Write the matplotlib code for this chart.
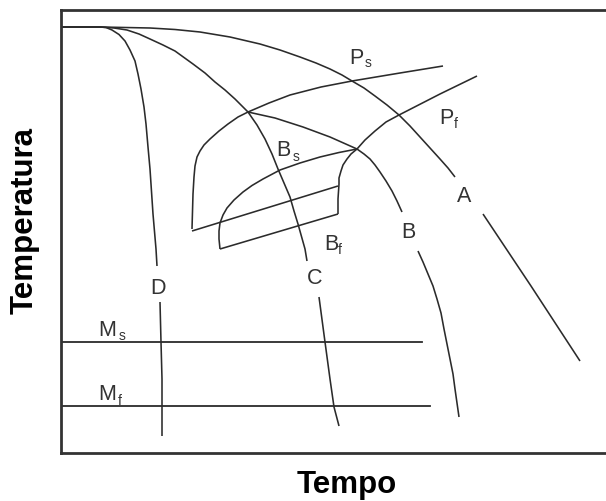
import matplotlib
matplotlib.use("Agg")
import matplotlib.pyplot as plt

# CCT diagram, schematic: time (arbitrary units) vs temperature (arbitrary units)
# cooling curves, upper part and lower part (gap where the letter sits)
D_upper = [(0, 426), (39, 426), (45, 425.5), (51, 423), (58, 418.5), (64, 412), (69, 403),
           (74, 392), (77, 379), (80, 364), (83, 346), (85, 329), (87, 306), (89, 284),
           (92, 239), (95, 204), (96, 187)]
D_lower = [(99, 151), (100, 111), (101, 74), (101, 47), (101, 17)]

C_upper = [(0, 426), (39, 426), (53, 425), (66, 423), (78, 419), (89, 414), (102, 408),
           (114, 402), (132, 389), (144, 380), (154, 371), (164, 363), (174, 354),
           (187, 341), (196, 328), (204, 314), (211, 299), (217, 284), (223, 270),
           (229, 256), (233, 242), (237, 229), (244, 204), (246, 192)]
C_lower = [(258, 156), (264, 111), (269, 74), (273, 46), (278, 27)]

B_upper = [(187, 341), (214, 335), (242, 326), (269, 316), (296, 304), (303, 299), (309, 294),
           (314, 288), (319, 281), (325, 272), (331, 262), (336, 252), (341, 241)]
B_lower = [(357, 202), (362, 191), (367, 179), (372, 167), (376, 154), (380, 140), (383, 124),
           (386, 109), (389, 94), (392, 79), (394, 64), (396, 50), (398, 36)]

A_upper = [(0, 426), (39, 426), (89, 425), (114, 423.5), (139, 421), (169, 416), (199, 409),
           (219, 403), (239, 396), (255, 390), (269, 384), (281, 378), (291, 372), (303, 365),
           (314, 357), (326, 348), (338, 338), (349, 327), (359, 316), (369, 305),
           (379, 294), (387, 285), (394, 276)]
A_lower = [(422, 239), (470, 167), (519, 92)]

# transformation start / finish lines
P_start = [(131, 224), (132, 259), (133, 276), (134, 287), (136, 296), (139, 302),
           (143, 308), (149, 314), (158, 322), (167, 329), (177, 336), (187, 341),
           (208, 350), (229, 358), (260, 366), (291, 372), (339, 380), (382, 387)]
P_bottom = [(131, 222), (277, 267)]
P_finish = [(416, 377), (379, 359), (338, 338), (325, 331), (314, 322), (304, 313),
            (296, 304), (290, 299), (286, 294), (282, 288), (280, 282), (278, 275),
            (278, 269), (277, 254), (277, 239)]
B_start = [(296, 304), (278, 300.5), (259, 296), (239, 290), (219, 283), (202, 274),
           (191, 267.5), (182, 261), (173, 253), (166, 245), (162, 238),
           (159, 230), (158, 222), (158, 214), (159, 204)]
B_finish = [(159, 204), (277, 239)]

Ms_temp, Ms_end = 111, 361
Mf_temp, Mf_end = 47, 369

LINE = "#2b2b2b"
TXT = "#333333"
FONT = "Liberation Sans"

fig = plt.figure(figsize=(6.06, 5.02), dpi=100)
ax = fig.add_axes([61 / 606, 48 / 502, 572 / 606, 443 / 502])
ax.set_xlim(0, 572)
ax.set_ylim(0, 443)
ax.set_xticks([])
ax.set_yticks([])
for s in ax.spines.values():
    s.set_linewidth(2.0)
    s.set_color("#333333")

curves = [D_upper, D_lower, C_upper, C_lower, B_upper, B_lower, A_upper, A_lower,
          P_start, P_bottom, P_finish, B_start, B_finish]
for pts in curves:
    xs, ys = zip(*pts)
    ax.plot(xs, ys, color=LINE, lw=1.15, solid_capstyle="butt", solid_joinstyle="round")

ax.plot([0, Ms_end], [Ms_temp, Ms_temp], color=LINE, lw=1.3)
ax.plot([0, Mf_end], [Mf_temp, Mf_temp], color=LINE, lw=1.3)

big = dict(fontsize=15.5, family=FONT, color=TXT, ha="center", va="center")
small = dict(fontsize=10, family=FONT, color=TXT, ha="center", va="center")

# curve letters
ax.text(403, 257, "A", **big)
ax.text(347, 222, "B", **big)
ax.text(254, 175, "C", **big)
ax.text(97, 166, "D", **big)

# labels with subscripts
for x, y, letter, sx, sy, sub in [(295, 396, "P", 307, 391, "s"),
                                  (385, 336, "P", 395, 330, "f"),
                                  (222, 304, "B", 235, 297, "s"),
                                  (270, 210, "B", 279, 204, "f"),
                                  (46, 124, "M", 61, 118, "s"),
                                  (46, 59, "M", 59, 53, "f")]:
    ax.text(x, y, letter, **big)
    ax.text(sx, sy, sub, **small)

fig.text(347 / 606, 1 - 485 / 502, "Tempo", fontsize=22.5, fontweight="bold",
         family=FONT, ha="center", va="center", color="black")
fig.text(25 / 606, 1 - 220 / 502, "Temperatura", fontsize=22.5, fontweight="bold",
         family=FONT, ha="center", va="center", rotation=90, color="black")

fig.savefig("out.png", dpi=100)
